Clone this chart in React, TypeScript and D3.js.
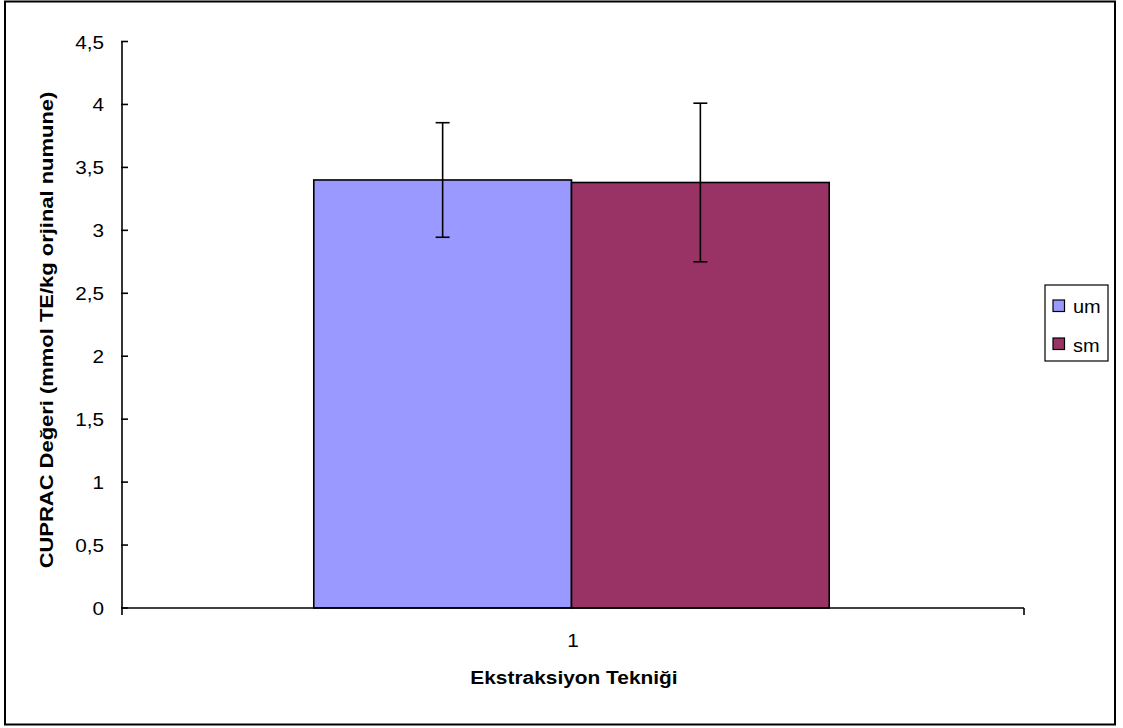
import React from "react";
import * as d3 from "d3";

// Chart data
const categories = ["1"];
const seriesNames = ["um", "sm"];
const seriesValues = [3.4, 3.38];
const seriesErrors = [0.455, 0.63];
const seriesColors = ["#9999FF", "#993366"];
const yTicks = [0, 0.5, 1, 1.5, 2, 2.5, 3, 3.5, 4, 4.5];

const W = 1123;
const H = 728;
const plot = { left: 122, right: 1024, top: 41.5, bottom: 608 };
const FONT = "'Liberation Sans', Arial, sans-serif";
const SX = 1.14; // horizontal text stretch

function SText(props: {
  x: number;
  y: number;
  size: number;
  anchor?: string;
  bold?: boolean;
  rotate?: number;
  sx?: number;
  children: React.ReactNode;
}) {
  const { x, y, size, anchor = "start", bold = false, rotate = 0, sx = SX } = props;
  return (
    <text
      transform={`translate(${x},${y}) rotate(${rotate}) scale(${sx},1)`}
      fontFamily={FONT}
      fontSize={size}
      fontWeight={bold ? "bold" : "normal"}
      textAnchor={anchor}
      fill="#000"
    >
      {props.children}
    </text>
  );
}

export default function App() {
  const y = d3.scaleLinear().domain([0, 4.5]).range([plot.bottom, plot.top]);
  const x = d3.scaleBand<string>().domain(categories).range([plot.left, plot.right]);
  const bw = x.bandwidth();
  // gap width 150% of a single bar on the category band
  const barW = bw / (seriesNames.length + 1.5);
  const gap = bw - barW * seriesNames.length;
  const xs = d3
    .scaleBand<string>()
    .domain(seriesNames)
    .range([gap / 2 - 1.5, gap / 2 - 1.5 + barW * seriesNames.length])
    .padding(0);
  const fmt = (v: number) => d3.format("~g")(v).replace(".", ",");

  return (
    <svg
      width={W}
      height={H}
      style={{ position: "absolute", left: 0, top: 0, background: "#fff" }}
    >
      <rect x={0} y={0} width={W} height={H} fill="#fff" />
      {/* chart area frame */}
      <rect x={5} y={1.5} width={1110} height={723} fill="none" stroke="#000" strokeWidth={2} />

      {/* bars */}
      {categories.map((c) =>
        seriesNames.map((s, i) => {
          const x0 = (x(c) ?? 0) + (xs(s) ?? 0);
          const y0 = y(seriesValues[i]);
          return (
            <rect
              key={c + s}
              x={x0}
              y={y0}
              width={xs.bandwidth()}
              height={y(0) - y0}
              fill={seriesColors[i]}
              stroke="#000"
              strokeWidth={1.6}
            />
          );
        })
      )}

      {/* error bars */}
      {categories.map((c) =>
        seriesNames.map((s, i) => {
          const cx = (x(c) ?? 0) + (xs(s) ?? 0) + xs.bandwidth() / 2;
          const hi = y(seriesValues[i] + seriesErrors[i]);
          const lo = y(seriesValues[i] - seriesErrors[i]);
          return (
            <g key={"e" + c + s} stroke="#000" strokeWidth={1.6}>
              <line x1={cx} x2={cx} y1={hi} y2={lo} />
              <line x1={cx - 7} x2={cx + 7} y1={hi} y2={hi} />
              <line x1={cx - 7} x2={cx + 7} y1={lo} y2={lo} />
            </g>
          );
        })
      )}

      {/* y axis */}
      <line x1={plot.left} x2={plot.left} y1={plot.top} y2={plot.bottom} stroke="#000" strokeWidth={1.6} />
      {yTicks.map((t) => (
        <g key={t}>
          <line x1={plot.left - 1} x2={plot.left + 6} y1={y(t)} y2={y(t)} stroke="#000" strokeWidth={1.6} />
          <SText x={104} y={y(t) + 7} size={18.5} anchor="end" sx={1.12}>
            {fmt(t)}
          </SText>
        </g>
      ))}

      {/* x axis */}
      <line x1={plot.left} x2={plot.right} y1={plot.bottom} y2={plot.bottom} stroke="#000" strokeWidth={1.6} />
      {[plot.left, plot.right].map((px) => (
        <line key={px} x1={px} x2={px} y1={plot.bottom} y2={plot.bottom + 7} stroke="#000" strokeWidth={1.6} />
      ))}
      {categories.map((c) => (
        <SText key={c} x={(x(c) ?? 0) + bw / 2} y={647} size={18.5} anchor="middle" sx={1.12}>
          {c}
        </SText>
      ))}

      {/* axis titles */}
      <SText x={574} y={684} size={18.5} anchor="middle" bold sx={1.13}>
        Ekstraksiyon Tekniği
      </SText>
      <SText x={53} y={330} size={18} anchor="middle" bold rotate={-90} sx={1.22}>
        CUPRAC Değeri (mmol TE/kg orjinal numune)
      </SText>

      {/* legend */}
      <rect x={1045} y={285} width={63} height={76} fill="#fff" stroke="#000" strokeWidth={1.2} />
      {seriesNames.map((s, i) => (
        <g key={"l" + s}>
          <rect
            x={1053}
            y={300 + i * 38}
            width={11.5}
            height={11.5}
            fill={seriesColors[i]}
            stroke="#000"
            strokeWidth={1.2}
          />
          <SText x={1073} y={313 + i * 38.5} size={18.5} sx={1.08}>
            {s}
          </SText>
        </g>
      ))}
    </svg>
  );
}
